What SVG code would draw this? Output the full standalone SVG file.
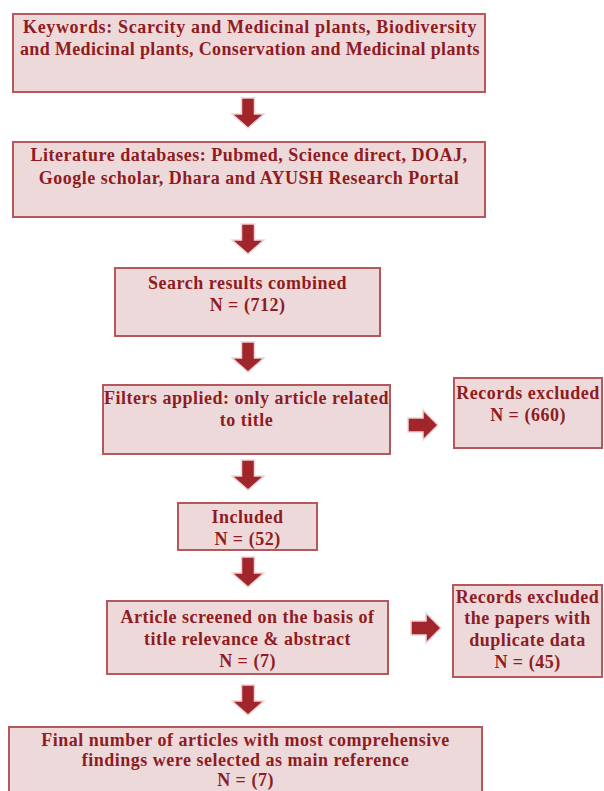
<svg xmlns="http://www.w3.org/2000/svg" width="604" height="791" viewBox="0 0 604 791">
<style>
.box{fill:#eed9da;stroke:#b4585c;stroke-width:2}
.t{font-family:"Liberation Serif","Times New Roman",serif;font-weight:bold;font-size:18px;fill:#8e1c22;text-anchor:middle;letter-spacing:0.5px}
.arr{fill:#a0262b;stroke:#efd2d3;stroke-width:1.5;stroke-linejoin:miter}
</style>
<defs>
<path id="down" d="M-6.5,0 H6.5 V16 H16 L0,30 L-16,16 H-6.5 Z"/>
<path id="right" d="M0,-7 H15 V-15 L30,0 L15,15 V7 H0 Z"/>
</defs>
<rect width="604" height="791" fill="#ffffff"/>
<g id="connectors">
<use href="#down" class="arr" x="248" y="98"/>
<use href="#down" class="arr" x="248" y="224"/>
<use href="#down" class="arr" x="248" y="342"/>
<use href="#down" class="arr" x="248" y="460"/>
<use href="#down" class="arr" x="248" y="557"/>
<use href="#down" class="arr" x="248" y="685"/>
<use href="#right" class="arr" x="408" y="425"/>
<use href="#right" class="arr" x="411" y="628"/>
</g>
<g id="keywords">
<rect class="box" x="13" y="14" width="472" height="78"/>
<text class="t" x="250" y="33" textLength="454">Keywords: Scarcity and Medicinal plants, Biodiversity</text>
<text class="t" x="250" y="55" textLength="460">and Medicinal plants, Conservation and Medicinal plants</text>
</g>
<g id="databases">
<rect class="box" x="13" y="142" width="472" height="75"/>
<text class="t" x="249" y="161">Literature databases:  Pubmed, Science direct, DOAJ,</text>
<text class="t" x="249" y="184">Google scholar, Dhara and AYUSH Research Portal</text>
</g>
<g id="combined">
<rect class="box" x="115" y="268" width="265" height="68"/>
<text class="t" x="247.5" y="289">Search  results combined</text>
<text class="t" x="247.5" y="311">N = (712)</text>
</g>
<g id="filters">
<rect class="box" x="103" y="385" width="287" height="69"/>
<text class="t" x="246.5" y="404">Filters applied: only article related</text>
<text class="t" x="246.5" y="426">to title</text>
</g>
<g id="excluded1">
<rect class="box" x="454" y="378" width="148" height="70"/>
<text class="t" x="528" y="399">Records excluded</text>
<text class="t" x="528" y="421">N = (660)</text>
</g>
<g id="included">
<rect class="box" x="178" y="503" width="139" height="47"/>
<text class="t" x="247.5" y="523">Included</text>
<text class="t" x="247.5" y="545">N = (52)</text>
</g>
<g id="screened">
<rect class="box" x="107" y="601" width="281" height="73"/>
<text class="t" x="247.5" y="623">Article screened on the basis of</text>
<text class="t" x="247.5" y="645">title relevance &amp; abstract</text>
<text class="t" x="247.5" y="667">N = (7)</text>
</g>
<g id="excluded2">
<rect class="box" x="453" y="585" width="149" height="92"/>
<text class="t" x="527.5" y="603">Records excluded</text>
<text class="t" x="527.5" y="624">the papers with</text>
<text class="t" x="527.5" y="646">duplicate data</text>
<text class="t" x="527.5" y="668">N = (45)</text>
</g>
<g id="final">
<rect class="box" x="9" y="727" width="473" height="75"/>
<text class="t" x="245.5" y="746">Final number of articles with most comprehensive</text>
<text class="t" x="245.5" y="766">findings were selected  as main reference</text>
<text class="t" x="245.5" y="786">N = (7)</text>
</g>
</svg>
